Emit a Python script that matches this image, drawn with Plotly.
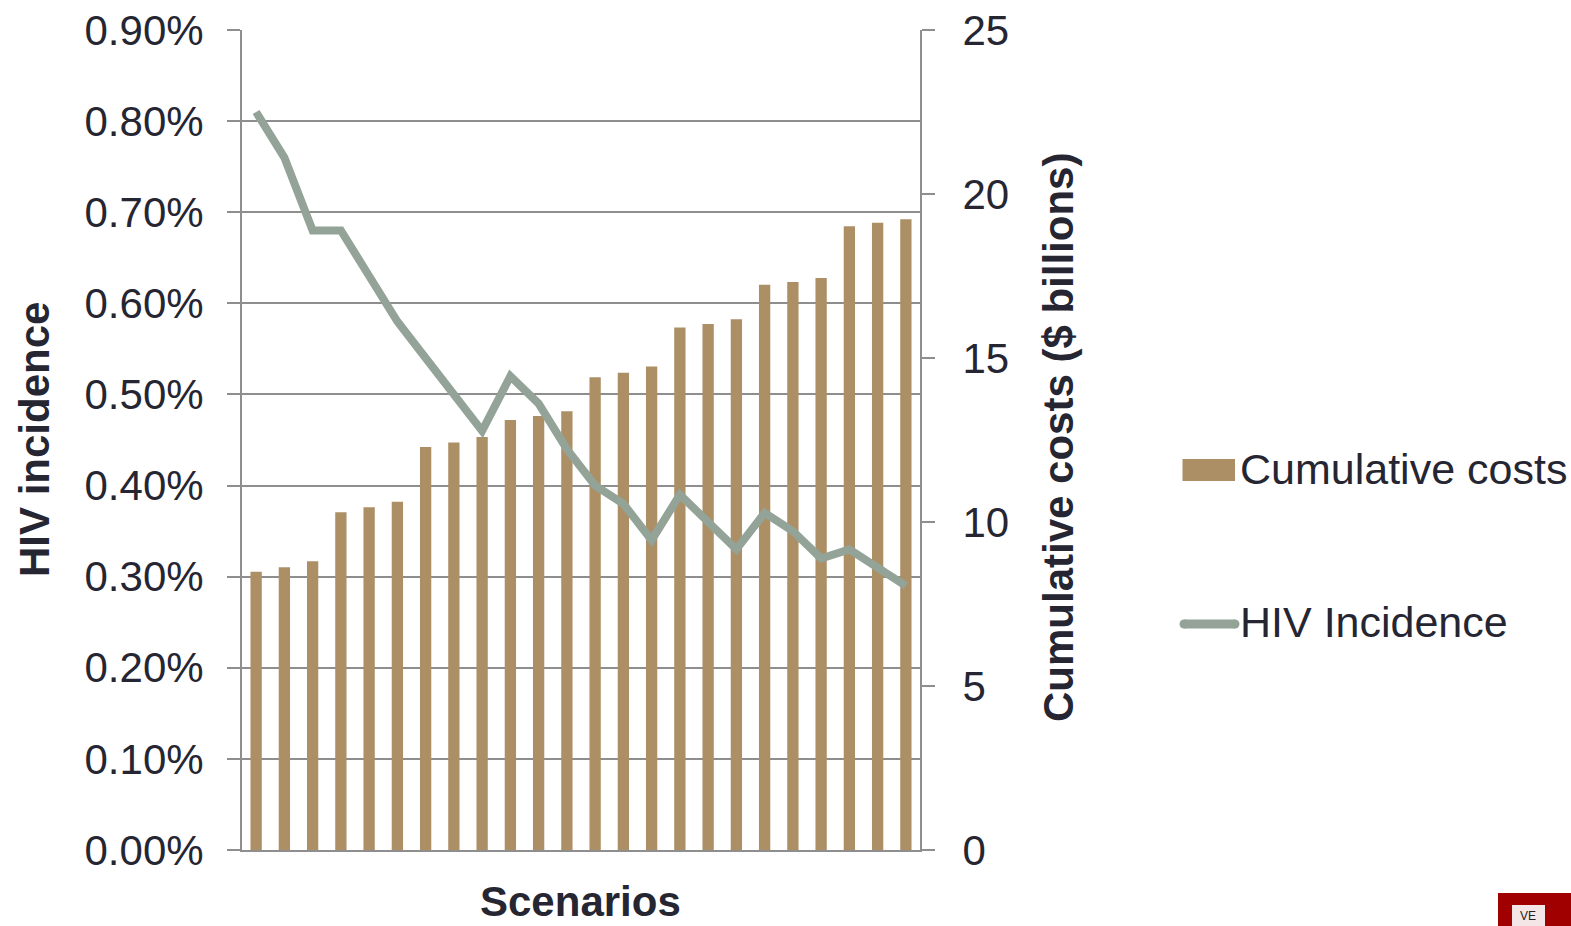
import plotly.graph_objects as go

# Scenario index, cumulative costs ($ billions) and HIV incidence (fraction)
scenarios = list(range(1, 25))
cumulative_costs = [8.48, 8.62, 8.80, 10.30, 10.45, 10.62, 12.29, 12.42, 12.59,
                    13.11, 13.23, 13.38, 14.41, 14.55, 14.74, 15.93, 16.04, 16.18,
                    17.23, 17.32, 17.44, 19.02, 19.12, 19.23]
hiv_incidence = [0.0081, 0.0076, 0.0068, 0.0068, 0.0063, 0.0058, 0.0054, 0.0050,
                 0.0046, 0.0052, 0.0049, 0.0044, 0.0040, 0.0038, 0.0034, 0.0039,
                 0.0036, 0.0033, 0.0037, 0.0035, 0.0032, 0.0033, 0.0031, 0.0029]
incidence_ticks = [i / 1000 for i in range(0, 10)]
cost_ticks = [0, 5, 10, 15, 20, 25]

W, H = 1571, 926
L, R, T, B = 242, 920, 30, 850   # plot area in pixels

BAR = "#AD8F66"
LINE = "#93A398"
GRID = "#8E8E8E"
TEXT = "#262633"
FONT = "Liberation Sans, Arial, sans-serif"


def px_x(x):
    return (x - L) / (R - L)


def px_y(y):
    return (B - y) / (B - T)


fig = go.Figure()

fig.add_trace(go.Bar(
    x=scenarios, y=cumulative_costs, name="Cumulative costs",
    marker=dict(color=BAR, line=dict(width=0)), yaxis="y",
    showlegend=False,
))
fig.add_trace(go.Scatter(
    x=scenarios, y=hiv_incidence, name="HIV Incidence", mode="lines",
    line=dict(color=LINE, width=8), yaxis="y2", showlegend=False,
))

axis_common = dict(
    showline=True, linecolor=GRID, linewidth=2,
    ticks="outside", ticklen=13, tickcolor=GRID, tickwidth=2,
    zeroline=False, automargin=False,
    tickfont=dict(family=FONT, size=42, color=TEXT),
)

fig.update_layout(
    width=W, height=H,
    margin=dict(l=L, r=W - R, t=T, b=H - B),
    paper_bgcolor="white", plot_bgcolor="white",
    font=dict(family=FONT, color=TEXT),
    bargap=0.6,
    xaxis=dict(
        range=[0.5, 24.5], showticklabels=False, ticks="",
        showline=True, linecolor=GRID, linewidth=2, showgrid=False,
        zeroline=False, automargin=False,
    ),
    yaxis=dict(
        side="right", range=[0, 25], tickvals=cost_ticks,
        showgrid=False, ticklabelstandoff=19,
        **axis_common,
    ),
    yaxis2=dict(
        side="left", overlaying="y", range=[0, 0.009], tickvals=incidence_ticks,
        tickformat=".2%", showgrid=True, gridcolor=GRID, gridwidth=2,
        ticklabelstandoff=15,
        **axis_common,
    ),
)

title_font = dict(family=FONT, size=42, color=TEXT)
annotations = [
    # axis titles
    dict(text="<b>HIV incidence</b>", xref="paper", yref="paper",
         x=px_x(34), y=px_y(440), xanchor="center", yanchor="middle",
         textangle=-90, showarrow=False, font=title_font),
    dict(text="<b>Cumulative costs ($ billions)</b>", xref="paper", yref="paper",
         x=px_x(1058), y=px_y(438), xanchor="center", yanchor="middle",
         textangle=-90, showarrow=False, font=title_font),
    dict(text="<b>Scenarios</b>", xref="paper", yref="paper",
         x=px_x(580), y=px_y(926), xanchor="center", yanchor="bottom",
         borderpad=0, showarrow=False, font=title_font),
    # legend labels
    dict(text="Cumulative costs", xref="paper", yref="paper",
         x=px_x(1238), y=px_y(469), xanchor="left", yanchor="middle",
         showarrow=False, font=dict(family=FONT, size=43, color=TEXT)),
    dict(text="HIV Incidence", xref="paper", yref="paper",
         x=px_x(1238), y=px_y(622), xanchor="left", yanchor="middle",
         showarrow=False, font=dict(family=FONT, size=43, color=TEXT)),
]

# Legend swatches
shapes = [
    dict(type="rect", xref="paper", yref="paper",
         x0=px_x(1182.5), x1=px_x(1235), y0=px_y(481), y1=px_y(459),
         fillcolor=BAR, line=dict(width=0)),
    dict(type="line", xref="paper", yref="paper",
         x0=px_x(1184), x1=px_x(1235), y0=px_y(624), y1=px_y(624),
         line=dict(color=LINE, width=9)),
]
for cx in (1184, 1235):
    shapes.append(dict(type="circle", xref="paper", yref="paper",
                       xsizemode="pixel", ysizemode="pixel",
                       xanchor=px_x(cx), yanchor=px_y(624),
                       x0=-4.5, x1=4.5, y0=-4.5, y1=4.5,
                       fillcolor=LINE, line=dict(width=0)))

# Corner emblem
shapes.append(dict(type="rect", xref="paper", yref="paper",
                   x0=px_x(1498), x1=px_x(1575), y0=px_y(930), y1=px_y(893),
                   fillcolor="#A00000", line=dict(width=0)))
shapes.append(dict(type="rect", xref="paper", yref="paper",
                   x0=px_x(1512), x1=px_x(1545), y0=px_y(930), y1=px_y(905),
                   fillcolor="#F4E6E6", line=dict(width=0)))
annotations.append(dict(text="VE", xref="paper", yref="paper",
                        x=px_x(1528), y=px_y(916), xanchor="center",
                        yanchor="middle", showarrow=False,
                        font=dict(family=FONT, size=12, color="#222222")))

fig.update_layout(shapes=shapes, annotations=annotations)

fig.write_html("out.html")
